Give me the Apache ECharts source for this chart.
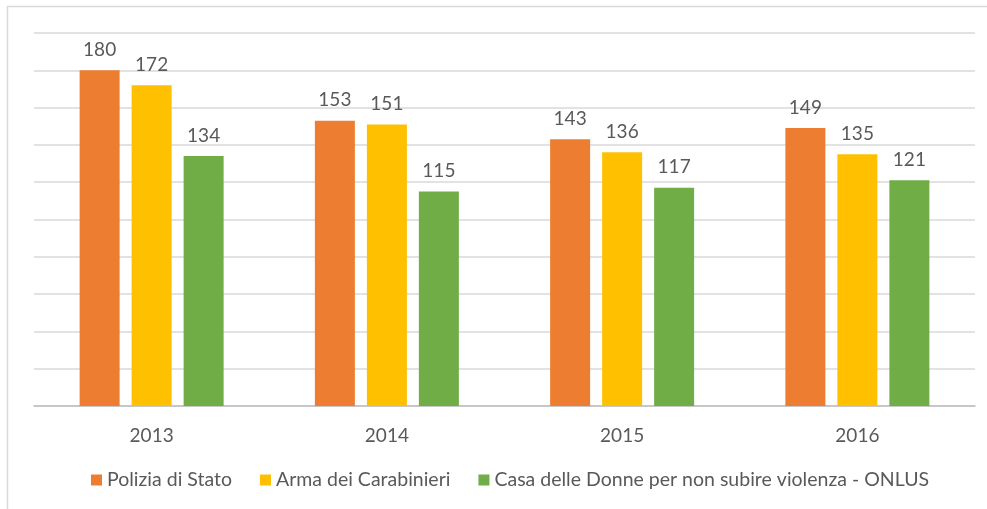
<!DOCTYPE html>
<html>
<head>
<meta charset="utf-8">
<script src="https://cdn.jsdelivr.net/npm/echarts@6/dist/echarts.min.js"></script>
<style>
  html, body { margin: 0; padding: 0; background: #fff; }
  #chart { width: 987px; height: 509px; }
</style>
</head>
<body>
<div id="chart"></div>
<script>
  const years = ['2013', '2014', '2015', '2016'];
  const polizia = [180, 153, 143, 149];
  const carabinieri = [172, 151, 136, 135];
  const casaDonne = [134, 115, 117, 121];

  const txt = '#595959';
  const font = "Lato, 'Noto Sans', sans-serif";

  function bar(name, data, color) {
    return {
      name: name,
      type: 'bar',
      data: data,
      barWidth: 40,
      barGap: '30%',
      itemStyle: { color: color },
      label: {
        show: true,
        position: 'top',
        distance: 11,
        color: txt,
        fontSize: 19,
        fontFamily: font
      }
    };
  }

  const chart = echarts.init(document.getElementById('chart'));
  chart.setOption({
    animation: false,
    graphic: [{
      type: 'rect',
      shape: { x: 7.5, y: 6.5, width: 1000, height: 540 },
      style: { fill: 'none', stroke: '#d9d9d9', lineWidth: 1.5 },
      silent: true
    }],
    grid: { left: 34, right: 12, top: 33, bottom: 103 },
    legend: {
      bottom: 14,
      left: 86,
      itemWidth: 11,
      itemHeight: 11,
      itemGap: 28,
      icon: 'rect',
      textStyle: { color: txt, fontSize: 19.5, fontFamily: font }
    },
    xAxis: {
      type: 'category',
      data: years,
      axisLine: { lineStyle: { color: '#bfbfbf', width: 1.5 } },
      axisTick: { show: false },
      axisLabel: { color: txt, fontSize: 19, fontFamily: font, margin: 20 }
    },
    yAxis: {
      type: 'value',
      min: 0,
      max: 200,
      interval: 20,
      axisLabel: { show: false },
      axisLine: { show: false },
      axisTick: { show: false },
      splitLine: { lineStyle: { color: '#d9d9d9', width: 1.5 } }
    },
    series: [
      bar('Polizia di Stato', polizia, '#ED7D31'),
      bar('Arma dei Carabinieri', carabinieri, '#FFC000'),
      bar('Casa delle Donne per non subire violenza - ONLUS', casaDonne, '#70AD47')
    ]
  });
</script>
</body>
</html>
